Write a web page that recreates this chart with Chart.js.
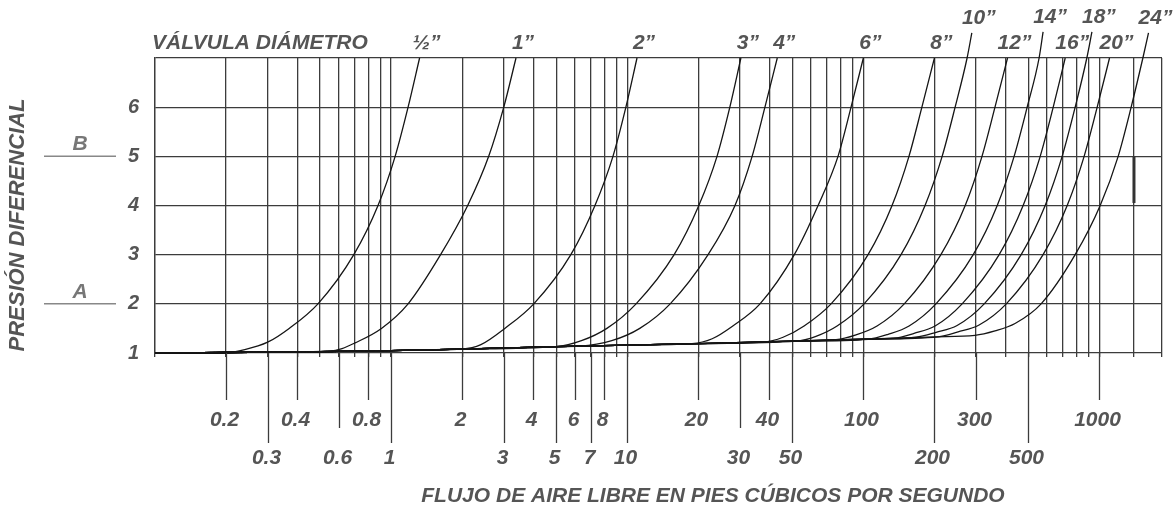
<!DOCTYPE html>
<html>
<head>
<meta charset="utf-8">
<script src="https://cdn.jsdelivr.net/npm/chart.js@4/dist/chart.umd.min.js"></script>
<style>
    html, body { margin: 0; padding: 0; background: #fff; }
</style>
</head>
<body>
<canvas id="myChart" width="1173" height="510"></canvas>
<script>
// valve sizes (one curve each)
const sizes = ["½”", "1”", "2”", "3”", "4”", "6”", "8”", "10”", "12”", "14”", "16”", "18”", "20”", "24”"];

// common flat part near 1 that all curves start from
const baseFlow = [0.1, 0.2, 0.5, 1, 2, 5, 10, 20, 50, 100, 200, 300];
const basePres = [1.0, 1.01, 1.03, 1.05, 1.08, 1.13, 1.16, 1.19, 1.24, 1.28, 1.33, 1.36];

// rising part of each curve (flow, pressure)
const flowHalf = [0.2, 0.24, 0.3, 0.37, 0.49, 0.695, 0.88, 1.04, 1.18, 1.32];
const presHalf = [1.01, 1.07, 1.22, 1.5, 2, 3, 4, 5, 6, 7];
const flow1 = [0.55, 0.62, 0.7, 0.91, 1.18, 1.62, 2.11, 2.59, 3.0, 3.38];
const pres1 = [1.04, 1.09, 1.2, 1.5, 2, 3, 4, 5, 6, 7];
const flow2 = [2.0, 2.4, 3.03, 4.02, 5.77, 7.3, 8.7, 9.87, 11.0];
const pres2 = [1.08, 1.17, 1.5, 2, 3, 4, 5, 6, 7];
const flow3 = [5.0, 6.4, 8.2, 10.9, 15.8, 20.1, 24.0, 27.2, 30.3];
const pres3 = [1.13, 1.25, 1.5, 2, 3, 4, 5, 6, 7];
const flow4 = [6.3, 8.6, 11.3, 15.2, 22.0, 28.6, 33.8, 38.3, 43.2];
const pres4 = [1.14, 1.25, 1.5, 2, 3, 4, 5, 6, 7];
const flow6 = [18.8, 22.9, 28.0, 36.5, 51.0, 64.3, 78.1, 88.7, 100];
const pres6 = [1.19, 1.29, 1.55, 2, 3, 4, 5, 6, 7];
const flow8 = [37.6, 45.7, 56.1, 73.0, 104.7, 132.3, 156, 177, 200];
const pres8 = [1.22, 1.32, 1.55, 2, 3, 4, 5, 6, 7];
const flow10 = [51.9, 63.0, 77.4, 100.7, 144.4, 182.5, 215.6, 244.7, 275, 288];
const pres10 = [1.24, 1.34, 1.55, 2, 3, 4, 5, 6, 7, 7.51];
const flow12 = [76.6, 93.1, 114.3, 149, 213, 270, 318, 361, 408];
const pres12 = [1.27, 1.37, 1.55, 2, 3, 4, 5, 6, 7];
const flow14 = [104.7, 127.3, 156.2, 203, 292, 369, 435, 494, 555, 577];
const pres14 = [1.28, 1.38, 1.55, 2, 3, 4, 5, 6, 7, 7.53];
const flow16 = [134.9, 164, 201.3, 262, 376, 475, 561, 637, 716];
const pres16 = [1.3, 1.4, 1.55, 2, 3, 4, 5, 6, 7];
const flow18 = [167.2, 203.3, 249.5, 325, 466, 589, 695, 789, 884, 929];
const pres18 = [1.32, 1.42, 1.56, 2, 3, 4, 5, 6, 7, 7.53];
const flow20 = [207.3, 251.9, 309.2, 403, 577, 730, 861, 978, 1103];
const pres20 = [1.33, 1.43, 1.57, 2, 3, 4, 5, 6, 7];
const flow24 = [297, 361, 439, 566, 789, 1007, 1200, 1362, 1527, 1613];
const pres24 = [1.36, 1.45, 1.6, 2, 3, 4, 5, 6, 7, 7.51];

// small thick stroke on the 1400 line
const markFlow = [1400, 1400];
const markPres = [4.05, 5.0];

// axis
const gridFlow = [0.1, 0.2, 0.3, 0.4, 0.5, 0.6, 0.7, 0.8, 0.9, 1, 2, 3, 4, 5, 6, 7, 8, 9, 10,
    20, 30, 40, 50, 60, 70, 80, 90, 100, 200, 300, 400, 500, 600, 700, 800, 900, 1000, 1400, 1840];
const labelsTop = [0.2, 0.4, 0.8, 2, 4, 6, 8, 20, 40, 100, 300, 1000];
const labelsBottom = [0.3, 0.6, 1, 3, 5, 7, 10, 30, 50, 200, 500];
const shortBottom = [0.6, 30];
const presTicks = [1, 2, 3, 4, 5, 6];

const curves = [
    [flowHalf, presHalf], [flow1, pres1], [flow2, pres2], [flow3, pres3], [flow4, pres4],
    [flow6, pres6], [flow8, pres8], [flow10, pres10], [flow12, pres12], [flow14, pres14],
    [flow16, pres16], [flow18, pres18], [flow20, pres20], [flow24, pres24],
];

const FONT = '"Liberation Sans", Arial, sans-serif';
const TEXT = "#555";
const GRID = "#3c3c3c";

function buildCurve(flow, pres) {
    const pts = [];
    baseFlow.forEach((f, i) => {
        if (f < flow[0] * 0.9) pts.push({ x: f, y: basePres[i] });
    });
    flow.forEach((f, i) => pts.push({ x: f, y: pres[i] }));
    return pts;
}

const datasets = curves.map((c, i) => ({
    label: sizes[i],
    data: buildCurve(c[0], c[1]),
    borderColor: "#151515",
    borderWidth: 1.3,
    pointRadius: 0,
    showLine: true,
    cubicInterpolationMode: "monotone",
    clip: false,
}));

datasets.push({
    label: "",
    data: markFlow.map((f, i) => ({ x: f, y: markPres[i] })),
    borderColor: "#333",
    borderWidth: 3,
    pointRadius: 0,
    showLine: true,
});

const extras = {
    id: "extras",
    afterDraw(chart) {
        const ctx = chart.ctx;
        const xs = chart.scales.x;
        const ys = chart.scales.y;
        const bottom = chart.chartArea.bottom;
        ctx.save();
        ctx.font = "bold italic 21px " + FONT;
        ctx.fillStyle = TEXT;
        ctx.strokeStyle = GRID;
        ctx.lineWidth = 1.3;
        ctx.textAlign = "center";
        ctx.textBaseline = "middle";

        // two rows of flow labels
        labelsTop.forEach((v) => {
            const px = Math.round(xs.getPixelForValue(v)) + 0.5;
            ctx.beginPath();
            ctx.moveTo(px, bottom);
            ctx.lineTo(px, 400);
            ctx.stroke();
            ctx.fillText(String(v), px - 2, 420);
        });
        labelsBottom.forEach((v) => {
            const px = Math.round(xs.getPixelForValue(v)) + 0.5;
            ctx.beginPath();
            ctx.moveTo(px, bottom);
            ctx.lineTo(px, shortBottom.includes(v) ? 428 : 443);
            ctx.stroke();
            ctx.fillText(String(v), px - 2, 458);
        });

        // valve size labels at the end of each curve
        chart.data.datasets.forEach((ds, i) => {
            if (!ds.label) return;
            const pts = chart.getDatasetMeta(i).data;
            const last = pts[pts.length - 1];
            ctx.fillText(ds.label, last.x + 7, last.y - 15);
        });

        // titles
        ctx.fillText("FLUJO DE AIRE LIBRE EN PIES CÚBICOS POR SEGUNDO", 713, 496);
        ctx.textAlign = "left";
        ctx.fillText("VÁLVULA DIÁMETRO", 152, 43);

        ctx.save();
        ctx.font = "bold italic 22px " + FONT;
        ctx.translate(18, 225);
        ctx.rotate(-Math.PI / 2);
        ctx.textAlign = "center";
        ctx.fillText("PRESIÓN DIFERENCIAL", 0, 0);
        ctx.restore();

        // A / B markers
        ctx.textAlign = "center";
        ctx.fillStyle = "#777";
        ctx.strokeStyle = "#888";
        ctx.lineWidth = 1.5;
        [["B", 5], ["A", 2]].forEach(([t, v]) => {
            const py = ys.getPixelForValue(v);
            ctx.beginPath();
            ctx.moveTo(44, py);
            ctx.lineTo(116, py);
            ctx.stroke();
            ctx.fillText(t, 80, py - 12);
        });
        ctx.restore();
    },
};

new Chart(document.getElementById("myChart"), {
    type: "scatter",
    data: { datasets: datasets },
    options: {
        responsive: false,
        animation: false,
        layout: { padding: { left: 0, right: 11, top: 58, bottom: 0 } },
        plugins: {
            legend: { display: false },
            tooltip: { enabled: false },
        },
        scales: {
            x: {
                type: "logarithmic",
                min: 0.1,
                max: 1840,
                afterBuildTicks(s) {
                    s.ticks = gridFlow.map((v) => ({ value: v }));
                },
                afterFit(s) {
                    s.height = 157;
                },
                ticks: { display: false },
                grid: { color: GRID, lineWidth: 1.3, drawTicks: true, tickLength: 4 },
                border: { display: false },
            },
            y: {
                type: "linear",
                min: 1,
                max: 7,
                afterBuildTicks(s) {
                    s.ticks = presTicks.concat([7]).map((v) => ({ value: v }));
                },
                afterFit(s) {
                    s.width = 155;
                },
                ticks: {
                    callback: (v) => (presTicks.includes(v) ? String(v) : ""),
                    color: TEXT,
                    padding: 16,
                    font: { family: FONT, size: 20, weight: "bold", style: "italic" },
                },
                grid: { color: GRID, lineWidth: 1.3, drawTicks: false },
                border: { display: true, color: GRID, width: 1.3 },
            },
        },
    },
    plugins: [extras],
});
</script>
</body>
</html>
